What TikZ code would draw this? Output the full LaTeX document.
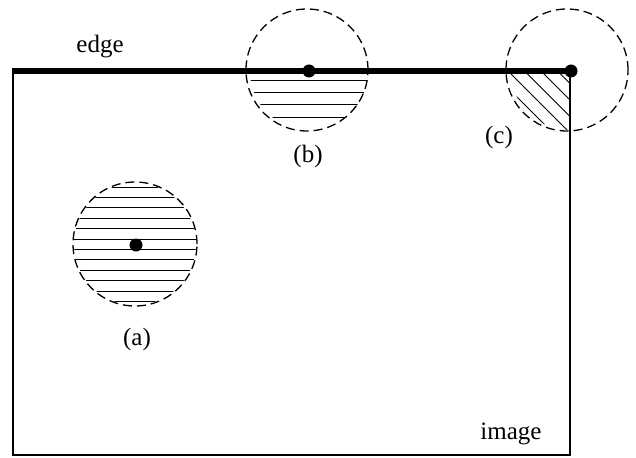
\documentclass[tikz,border=0pt]{standalone}
\usepackage{fontspec}
\setmainfont{Liberation Serif}
\usetikzlibrary{positioning}

\begin{document}
\begin{tikzpicture}[
    x=1pt, y=-1pt,
    font=\fontsize{25}{30}\selectfont,
    every node/.style={inner sep=0pt},
    dot/.style={circle, fill=black, minimum size=13pt},
    zone/.style={draw, line width=1.3pt, dash pattern=on 9pt off 5pt},
    hatch/.style={line width=0.9pt},
    border/.style={line width=1.1pt},
    edgeline/.style={line width=6pt}
]
\useasboundingbox (0,0) rectangle (636,457);
% image frame and its edge
\draw[border] (13,71) -- (13,455) -- (570,455) -- (570,71);
\coordinate (edgeL) at (12,71);
\coordinate (edgeR) at (570,71);
\draw[edgeline] (edgeL) -- (edgeR);
\node[anchor=base] (edgelabel) at (100,53) {edge};
\node[anchor=base] (imagelabel) at (511,439) {image};
% (a) inside the image
\begin{scope}
  \clip (135,244) circle (61pt);
  \foreach \k in {0,...,11}
    \draw[hatch] (60,187+\k*10.4) -- (210,187+\k*10.4);
\end{scope}
\draw[zone] (135,244) circle (62pt);
\node[dot] (pa) at (136,245) {};
\node[anchor=base] (la) at (137,345) {(a)};
% (b) on the edge
\begin{scope}
  \clip (309,71) circle (59pt);
  \foreach \k in {0,...,3}
    \draw[hatch] (240,80+\k*12.35) -- (380,80+\k*12.35);
\end{scope}
\draw[zone] (307,70) circle (61pt);
\node[dot] (pb) at (309,71) {};
\node[anchor=base] (lb) at (308,163) {(b)};
% (c) at the corner
\begin{scope}
  \clip (480,71) rectangle (570,140);
  \clip (570,71) circle (59pt);
  \foreach \c in {420,437,453.5,470,486.5}
    \draw[hatch] (\c+40,40) -- (\c+150,150);
\end{scope}
\draw[zone] (567,70) circle (61pt);
\node[dot] (pc) at (571,71) {};
\node[anchor=base] (lc) at (499,144) {(c)};
\end{tikzpicture}
\end{document}
